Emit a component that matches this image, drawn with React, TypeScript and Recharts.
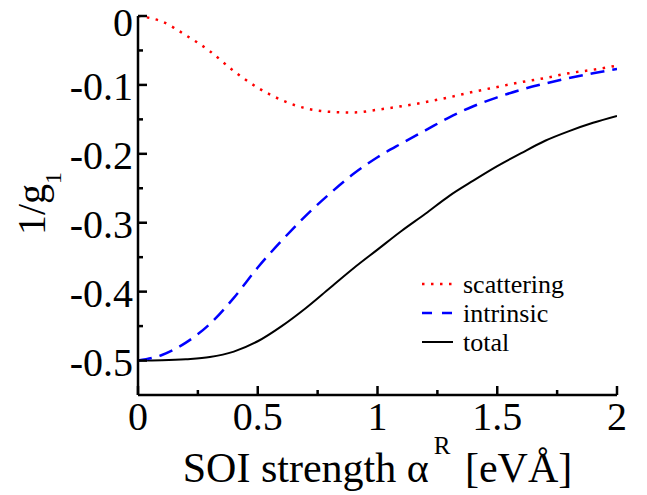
import React from "react";
import { Legend, Line, LineChart, XAxis, YAxis } from "recharts";

// SOI strength alpha^R [eVÅ]
const alpha = [0, 0.1, 0.2, 0.3, 0.4, 0.5, 0.6, 0.7, 0.8, 0.9, 1.0, 1.1, 1.2, 1.3, 1.4, 1.5, 1.6, 1.7, 1.8, 1.9, 2.0];
const scattering = [0, -0.008, -0.028, -0.051, -0.08, -0.104, -0.122, -0.134, -0.139, -0.14, -0.136, -0.131, -0.125, -0.118, -0.11, -0.103, -0.096, -0.09, -0.083, -0.078, -0.072];
const intrinsic = [-0.5, -0.492, -0.474, -0.447, -0.409, -0.365, -0.326, -0.29, -0.258, -0.229, -0.205, -0.185, -0.166, -0.147, -0.131, -0.118, -0.107, -0.098, -0.09, -0.083, -0.077];
const total = [-0.5, -0.4995, -0.498, -0.495, -0.487, -0.472, -0.45, -0.424, -0.395, -0.366, -0.339, -0.312, -0.287, -0.261, -0.239, -0.218, -0.199, -0.181, -0.167, -0.155, -0.145];

const xTicks = [0, 0.25, 0.5, 0.75, 1, 1.25, 1.5, 1.75, 2];
const yTicks = [-0.5, -0.45, -0.4, -0.35, -0.3, -0.25, -0.2, -0.15, -0.1, -0.05, 0];
const seriesNames = ["scattering", "intrinsic", "total"];

const FONT = "'Liberation Serif', 'Times New Roman', serif";
const RED_DOTS = "2.5 6.5";
const BLUE_DASH = "14 8";

const isMajor = (v: number, step: number) => Math.abs(v / step - Math.round(v / step)) < 1e-6;

function BottomTick({ x, y, payload }: any) {
  const v = payload.value;
  const major = isMajor(v, 0.5);
  return (
    <g>
      <line x1={x} y1={y} x2={x} y2={y - (major ? 9 : 5)} stroke="#000" strokeWidth={2.5} />
      {major && (
        <text x={x} y={y + 35} textAnchor="middle" fontSize={40} fontFamily={FONT} fill="#000">
          {String(v)}
        </text>
      )}
    </g>
  );
}

function TopTick({ x, y, payload }: any) {
  const major = isMajor(payload.value, 0.5);
  return <line x1={x} y1={y} x2={x} y2={y + (major ? 9 : 5)} stroke="#000" strokeWidth={2.5} />;
}

function LeftTick({ x, y, payload }: any) {
  const v = payload.value;
  const major = isMajor(v, 0.1);
  // keep the top label inside the picture
  const ty = Math.max(y + 15.5, 36);
  return (
    <g>
      <line x1={x} y1={y} x2={x + (major ? 9 : 5)} y2={y} stroke="#000" strokeWidth={2.5} />
      {major && (
        <text x={x - 5} y={ty} textAnchor="end" fontSize={40} fontFamily={FONT} fill="#000">
          {String(Math.round(v * 10) / 10)}
        </text>
      )}
    </g>
  );
}

function RightTick({ x, y, payload }: any) {
  const major = isMajor(payload.value, 0.1);
  return <line x1={x} y1={y} x2={x - (major ? 9 : 5)} y2={y} stroke="#000" strokeWidth={2.5} />;
}

function XTitle(props: any) {
  const vb = props.viewBox;
  return (
    <text x={vb.x + vb.width / 2} y={vb.y + 87} textAnchor="middle" fontSize={42} fontFamily={FONT} fill="#000">
      SOI strength α
      <tspan dx={5} dy={-28} fontSize={25}>
        R
      </tspan>
      <tspan dx={4} dy={28} fontSize={42}>
        {" [eVÅ]"}
      </tspan>
    </text>
  );
}

function YTitle(props: any) {
  const vb = props.viewBox;
  const cx = vb.x - 23;
  const cy = vb.y + vb.height / 2 - 2;
  return (
    <text x={cx} y={cy} transform={`rotate(-90, ${cx}, ${cy})`} textAnchor="middle" fontSize={40} fontFamily={FONT} fill="#000">
      1/g<tspan dy={16} fontSize={24}>1</tspan>
    </text>
  );
}

function LegendBox() {
  const rows = [
    { y: 14, stroke: "#ff0000", dash: RED_DOTS, w: 2.5 },
    { y: 43, stroke: "#0000ff", dash: "10 10", w: 2.5 },
    { y: 72, stroke: "#000000", dash: undefined, w: 2 },
  ];
  return (
    <svg width={200} height={92}>
      {rows.map((r, i) => (
        <g key={seriesNames[i]}>
          <line x1={12} y1={r.y} x2={43} y2={r.y} stroke={r.stroke} strokeWidth={r.w} strokeDasharray={r.dash} />
          <text x={53} y={r.y + 9} fontSize={26} fontFamily={FONT} fill="#000">
            {seriesNames[i]}
          </text>
        </g>
      ))}
    </svg>
  );
}

export default function App() {
  const data = alpha.map((a, i) => ({
    alpha: a,
    scattering: scattering[i],
    intrinsic: intrinsic[i],
    total: total[i],
  }));

  const axisLine = { stroke: "#000", strokeWidth: 2.5 };

  return (
    <div style={{ position: "absolute", left: 0, top: 0, width: 647, height: 495, background: "#fff" }}>
      <LineChart width={647} height={495} data={data} margin={{ top: 16, right: 30, bottom: 40, left: 68 }}>
        <XAxis
          xAxisId="b"
          type="number"
          dataKey="alpha"
          domain={[0, 2]}
          allowDataOverflow
          ticks={xTicks}
          interval={0}
          tick={<BottomTick />}
          tickLine={false}
          tickSize={0}
          tickMargin={0}
          axisLine={axisLine}
          height={60}
          label={{ content: XTitle }}
        />
        <XAxis
          xAxisId="t"
          orientation="top"
          type="number"
          domain={[0, 2]}
          allowDataOverflow
          ticks={xTicks}
          interval={0}
          tick={<TopTick />}
          tickLine={false}
          tickSize={0}
          tickMargin={0}
          axisLine={axisLine}
          height={0}
        />
        <YAxis
          yAxisId="l"
          type="number"
          domain={[-0.55, 0]}
          allowDataOverflow
          ticks={yTicks}
          interval={0}
          tick={<LeftTick />}
          tickLine={false}
          tickSize={0}
          tickMargin={0}
          axisLine={axisLine}
          width={70}
          label={{ content: YTitle }}
        />
        <YAxis
          yAxisId="r"
          orientation="right"
          type="number"
          domain={[-0.55, 0]}
          allowDataOverflow
          ticks={yTicks}
          interval={0}
          tick={<RightTick />}
          tickLine={false}
          tickSize={0}
          tickMargin={0}
          axisLine={axisLine}
          width={0}
        />
        <Line xAxisId="b" yAxisId="l" type="monotone" dataKey="total" stroke="#000000" strokeWidth={2} dot={false} isAnimationActive={false} />
        <Line xAxisId="b" yAxisId="l" type="monotone" dataKey="intrinsic" stroke="#0000ff" strokeWidth={2.5} strokeDasharray={BLUE_DASH} dot={false} isAnimationActive={false} />
        <Line xAxisId="b" yAxisId="l" type="monotone" dataKey="scattering" stroke="#ff0000" strokeWidth={2.5} strokeDasharray={RED_DOTS} dot={false} isAnimationActive={false} />
        <Legend
          layout="vertical"
          align="center"
          verticalAlign="middle"
          wrapperStyle={{ left: 410, top: 270, width: 200, height: 92 }}
          content={() => <LegendBox />}
        />
      </LineChart>
    </div>
  );
}
